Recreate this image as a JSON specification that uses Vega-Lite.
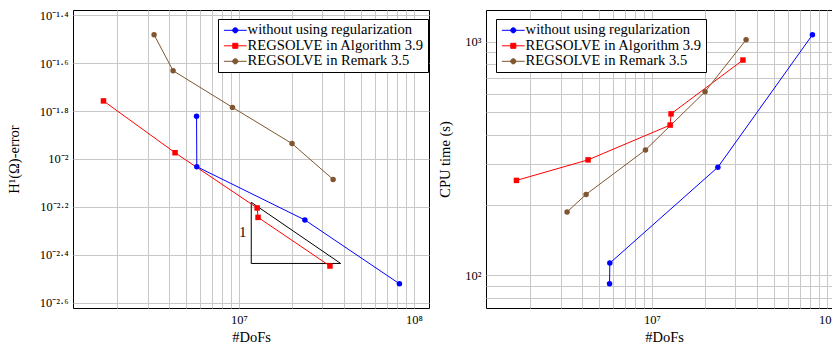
{
  "$schema": "https://vega.github.io/schema/vega-lite/v6.json",
  "background": "white",
  "padding": {"left": 5, "top": 8, "right": 0, "bottom": 0},
  "spacing": 7,
  "config": {
    "font": "Liberation Serif",
    "view": {"stroke": "black", "strokeWidth": 1},
    "axis": {
      "grid": true, "gridColor": "#c8c8c8", "gridWidth": 1,
      "ticks": false, "domain": false,
      "labelFont": "Liberation Serif", "labelFontSize": 12.5, "labelColor": "black",
      "titleFont": "Liberation Serif", "titleFontSize": 14.5, "titleFontWeight": "normal", "titleColor": "black",
      "labelPadding": 5
    },
    "legend": {
      "labelFont": "Liberation Serif", "labelFontSize": 14.6, "labelColor": "black",
      "fillColor": "white", "strokeColor": "black", "padding": 4, "rowPadding": 0.5,
      "symbolSize": 144, "symbolStrokeWidth": 1, "symbolOpacity": 1, "symbolOffset": 6, "labelOffset": 5, "labelLimit": 300
    }
  },
  "datasets": {
    "runs": [
      {"series": "without using regularization", "k": 1, "dofs": 5720000, "err": 0.01507, "time": 91.8},
      {"series": "without using regularization", "k": 2, "dofs": 5740000, "err": 0.00929, "time": 112.6},
      {"series": "without using regularization", "k": 3, "dofs": 23800000, "err": 0.00557, "time": 290},
      {"series": "without using regularization", "k": 4, "dofs": 82600000, "err": 0.00302, "time": 1071},
      {"series": "REGSOLVE in Algorithm 3.9", "k": 1, "dofs": 1680000, "err": 0.01746, "time": 254.6},
      {"series": "REGSOLVE in Algorithm 3.9", "k": 2, "dofs": 4310000, "err": 0.01062, "time": 311.8},
      {"series": "REGSOLVE in Algorithm 3.9", "k": 3, "dofs": 12700000, "err": 0.00625, "time": 439.5},
      {"series": "REGSOLVE in Algorithm 3.9", "k": 4, "dofs": 12850000, "err": 0.00571, "time": 491},
      {"series": "REGSOLVE in Algorithm 3.9", "k": 5, "dofs": 33100000, "err": 0.00358, "time": 835},
      {"series": "REGSOLVE in Remark 3.5", "k": 1, "dofs": 3270000, "err": 0.03296, "time": 186.6},
      {"series": "REGSOLVE in Remark 3.5", "k": 2, "dofs": 4200000, "err": 0.02333, "time": 221.8},
      {"series": "REGSOLVE in Remark 3.5", "k": 3, "dofs": 9180000, "err": 0.01641, "time": 344},
      {"series": "REGSOLVE in Remark 3.5", "k": 4, "dofs": 20100000, "err": 0.01159, "time": 611},
      {"series": "REGSOLVE in Remark 3.5", "k": 5, "dofs": 34500000, "err": 0.00822, "time": 1020}
    ],
    "tri": [
      {"k": 1, "dofs": 11750000, "err": 0.0066},
      {"k": 2, "dofs": 11750000, "err": 0.00367},
      {"k": 3, "dofs": 38100000, "err": 0.00367},
      {"k": 4, "dofs": 11750000, "err": 0.0066}
    ],
    "trilabel": [
      {"dofs": 10500000, "err": 0.00492, "label": "1"}
    ]
  },
  "hconcat": [
    {
      "width": 356, "height": 298,
      "data": {"name": "runs"},
      "encoding": {
        "x": {"field": "dofs", "type": "quantitative",
          "scale": {"type": "log", "domain": [1125000, 121900000], "nice": false},
          "axis": {"title": "#DoFs", "titlePadding": 5,
            "values": [2000000, 3000000, 4000000, 5000000, 6000000, 7000000, 8000000, 9000000, 10000000, 20000000, 30000000, 40000000, 50000000, 60000000, 70000000, 80000000, 90000000, 100000000],
            "labelExpr": "datum.value == 10000000 ? '10⁷' : datum.value == 100000000 ? '10⁸' : ''"}},
        "y": {"field": "err", "type": "quantitative",
          "scale": {"type": "log", "domain": [0.002393, 0.04178], "nice": false},
          "axis": {"title": "H¹(Ω)-error", "titlePadding": 18,
            "values": [0.039810717, 0.025118864, 0.015848932, 0.01, 0.006309573, 0.003981072, 0.002511886],
            "labelExpr": "datum.value > 0.03 ? '10⁻¹·⁴' : datum.value > 0.02 ? '10⁻¹·⁶' : datum.value > 0.012 ? '10⁻¹·⁸' : datum.value > 0.008 ? '10⁻²' : datum.value > 0.005 ? '10⁻²·²' : datum.value > 0.003 ? '10⁻²·⁴' : '10⁻²·⁶'"}}
      },
      "layer": [
        {"data": {"name": "tri"}, "mark": {"type": "line", "color": "black", "strokeWidth": 1},
         "encoding": {"order": {"field": "k"}}},
        {"data": {"name": "trilabel"}, "mark": {"type": "text", "color": "black", "fontSize": 14, "font": "Liberation Serif"},
         "encoding": {"text": {"field": "label"}}},
        {"mark": {"type": "line", "strokeWidth": 1},
         "encoding": {"order": {"field": "k"},
           "color": {"field": "series", "type": "nominal", "legend": null,
             "scale": {"domain": ["without using regularization", "REGSOLVE in Algorithm 3.9", "REGSOLVE in Remark 3.5"], "range": ["#0000ff", "#ff0000", "#7f5630"]}}}},
        {"mark": {"type": "point", "filled": true, "opacity": 1, "size": 30},
         "encoding": {
           "color": {"field": "series", "type": "nominal", "legend": null,
             "scale": {"domain": ["without using regularization", "REGSOLVE in Algorithm 3.9", "REGSOLVE in Remark 3.5"], "range": ["#0000ff", "#ff0000", "#7f5630"]}},
           "shape": {"field": "series", "type": "nominal", "legend": null,
             "scale": {"domain": ["without using regularization", "REGSOLVE in Algorithm 3.9", "REGSOLVE in Remark 3.5"], "range": ["circle", "square", "circle"]}}}},
        {"mark": {"type": "point", "filled": false, "opacity": 0},
         "encoding": {
           "stroke": {"field": "series", "type": "nominal",
             "scale": {"domain": ["without using regularization", "REGSOLVE in Algorithm 3.9", "REGSOLVE in Remark 3.5"], "range": ["#0000ff", "#ff0000", "#7f5630"]},
             "legend": {"title": null, "orient": "none", "legendX": 145, "legendY": 9}},
           "fill": {"field": "series", "type": "nominal",
             "scale": {"domain": ["without using regularization", "REGSOLVE in Algorithm 3.9", "REGSOLVE in Remark 3.5"], "range": ["#0000ff", "#ff0000", "#7f5630"]},
             "legend": {"title": null, "orient": "none", "legendX": 145, "legendY": 9}},
           "shape": {"field": "series", "type": "nominal",
             "scale": {"domain": ["without using regularization", "REGSOLVE in Algorithm 3.9", "REGSOLVE in Remark 3.5"],
               "range": ["M-1.9,0H1.9M-0.43,0A0.43,0.43 0 1,0 0.43,0A0.43,0.43 0 1,0 -0.43,0Z", "M-1.9,0H1.9M-0.42,-0.42H0.42V0.42H-0.42Z", "M-1.9,0H1.9M-0.43,0A0.43,0.43 0 1,0 0.43,0A0.43,0.43 0 1,0 -0.43,0Z"]},
             "legend": {"title": null, "orient": "none", "legendX": 145, "legendY": 9}}}}
      ],
      "resolve": {"scale": {"color": "independent", "shape": "independent", "fill": "independent", "stroke": "independent"}}
    },
    {
      "width": 356, "height": 298,
      "data": {"name": "runs"},
      "encoding": {
        "x": {"field": "dofs", "type": "quantitative",
          "scale": {"type": "log", "domain": [1125000, 121900000], "nice": false},
          "axis": {"title": "#DoFs", "titlePadding": 5,
            "values": [2000000, 3000000, 4000000, 5000000, 6000000, 7000000, 8000000, 9000000, 10000000, 20000000, 30000000, 40000000, 50000000, 60000000, 70000000, 80000000, 90000000, 100000000],
            "labelExpr": "datum.value == 10000000 ? '10⁷' : datum.value == 100000000 ? '10⁸' : ''"}},
        "y": {"field": "time", "type": "quantitative",
          "scale": {"type": "log", "domain": [72.3, 1368], "nice": false},
          "axis": {"title": "CPU time (s)", "titlePadding": 12,
            "values": [80, 90, 100, 200, 300, 400, 500, 600, 700, 800, 900, 1000],
            "labelExpr": "datum.value == 100 ? '10²' : datum.value == 1000 ? '10³' : ''"}}
      },
      "layer": [
        {"mark": {"type": "line", "strokeWidth": 1},
         "encoding": {"order": {"field": "k"},
           "color": {"field": "series", "type": "nominal", "legend": null,
             "scale": {"domain": ["without using regularization", "REGSOLVE in Algorithm 3.9", "REGSOLVE in Remark 3.5"], "range": ["#0000ff", "#ff0000", "#7f5630"]}}}},
        {"mark": {"type": "point", "filled": true, "opacity": 1, "size": 30},
         "encoding": {
           "color": {"field": "series", "type": "nominal", "legend": null,
             "scale": {"domain": ["without using regularization", "REGSOLVE in Algorithm 3.9", "REGSOLVE in Remark 3.5"], "range": ["#0000ff", "#ff0000", "#7f5630"]}},
           "shape": {"field": "series", "type": "nominal", "legend": null,
             "scale": {"domain": ["without using regularization", "REGSOLVE in Algorithm 3.9", "REGSOLVE in Remark 3.5"], "range": ["circle", "square", "circle"]}}}},
        {"mark": {"type": "point", "filled": false, "opacity": 0},
         "encoding": {
           "stroke": {"field": "series", "type": "nominal",
             "scale": {"domain": ["without using regularization", "REGSOLVE in Algorithm 3.9", "REGSOLVE in Remark 3.5"], "range": ["#0000ff", "#ff0000", "#7f5630"]},
             "legend": {"title": null, "orient": "none", "legendX": 10, "legendY": 9}},
           "fill": {"field": "series", "type": "nominal",
             "scale": {"domain": ["without using regularization", "REGSOLVE in Algorithm 3.9", "REGSOLVE in Remark 3.5"], "range": ["#0000ff", "#ff0000", "#7f5630"]},
             "legend": {"title": null, "orient": "none", "legendX": 10, "legendY": 9}},
           "shape": {"field": "series", "type": "nominal",
             "scale": {"domain": ["without using regularization", "REGSOLVE in Algorithm 3.9", "REGSOLVE in Remark 3.5"],
               "range": ["M-1.9,0H1.9M-0.43,0A0.43,0.43 0 1,0 0.43,0A0.43,0.43 0 1,0 -0.43,0Z", "M-1.9,0H1.9M-0.42,-0.42H0.42V0.42H-0.42Z", "M-1.9,0H1.9M-0.43,0A0.43,0.43 0 1,0 0.43,0A0.43,0.43 0 1,0 -0.43,0Z"]},
             "legend": {"title": null, "orient": "none", "legendX": 10, "legendY": 9}}}}
      ],
      "resolve": {"scale": {"color": "independent", "shape": "independent", "fill": "independent", "stroke": "independent"}}
    }
  ]
}
